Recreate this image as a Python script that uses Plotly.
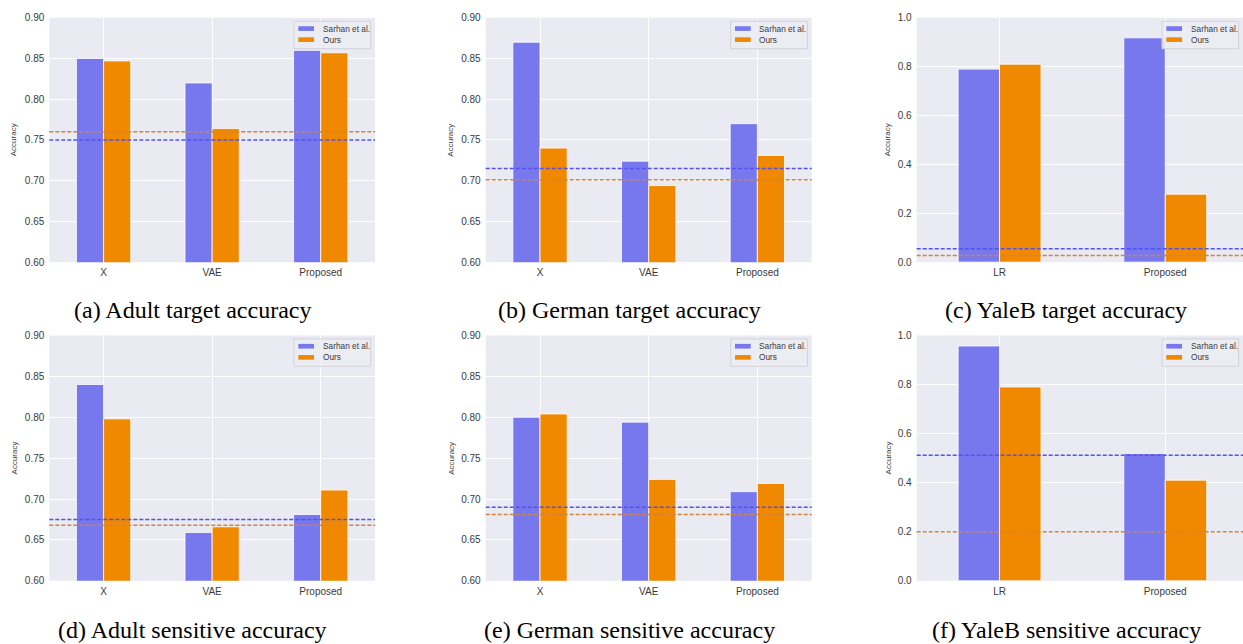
import plotly.graph_objects as go

# ---- data -------------------------------------------------------------
series_names = ["Sarhan et al.", "Ours"]

tabular_methods = ["X", "VAE", "Proposed"]
image_methods = ["LR", "Proposed"]

adult_target_sarhan = [0.850, 0.820, 0.860]
adult_target_ours = [0.847, 0.764, 0.857]
adult_target_baseline = [0.750, 0.760]      # sarhan, ours

german_target_sarhan = [0.870, 0.724, 0.770]
german_target_ours = [0.740, 0.694, 0.731]
german_target_baseline = [0.715, 0.701]

yaleb_target_sarhan = [0.790, 0.918]
yaleb_target_ours = [0.810, 0.278]
yaleb_target_baseline = [0.055, 0.027]

adult_sensitive_sarhan = [0.840, 0.659, 0.681]
adult_sensitive_ours = [0.798, 0.666, 0.711]
adult_sensitive_baseline = [0.675, 0.668]

german_sensitive_sarhan = [0.800, 0.794, 0.709]
german_sensitive_ours = [0.804, 0.724, 0.719]
german_sensitive_baseline = [0.690, 0.681]

yaleb_sensitive_sarhan = [0.957, 0.519]
yaleb_sensitive_ours = [0.790, 0.410]
yaleb_sensitive_baseline = [0.512, 0.200]

tabular_ticks = [0.60, 0.65, 0.70, 0.75, 0.80, 0.85, 0.90]
image_ticks = [0.0, 0.2, 0.4, 0.6, 0.8, 1.0]

captions = [
    "(a) Adult target accuracy",
    "(b) German target accuracy",
    "(c) YaleB target accuracy",
    "(d) Adult sensitive accuracy",
    "(e) German sensitive accuracy",
    "(f) YaleB sensitive accuracy",
]

# ---- styling ----------------------------------------------------------
W, H = 1243, 644
BAR_COLORS = ["#7878ee", "#f08800"]
LINE_COLORS = ["#5252f0", "#d4843a"]
BG = "#eaeaf2"
TEXT = "#3a3a3a"
SANS = "Liberation Sans, Arial, sans-serif"
SERIF = "Liberation Serif, Times New Roman, serif"

# plot areas in pixels: (left, right), (top, bottom)
cols_px = [(49.3, 375.0), (485.7, 811.7), (916.7, 1243.0)]
rows_px = [(12.0, 261.0), (335.7, 585.7)]
caption_centers_x = [192, 629, 1066]
caption_centers_y = [310, 636]
CAT_SPACING_IMG = 165.7  # px between the two categories of the image panels

panels = [
    (tabular_methods, adult_target_sarhan, adult_target_ours, adult_target_baseline, "tab"),
    (tabular_methods, german_target_sarhan, german_target_ours, german_target_baseline, "tab"),
    (image_methods, yaleb_target_sarhan, yaleb_target_ours, yaleb_target_baseline, "img"),
    (tabular_methods, adult_sensitive_sarhan, adult_sensitive_ours, adult_sensitive_baseline, "tab"),
    (tabular_methods, german_sensitive_sarhan, german_sensitive_ours, german_sensitive_baseline, "tab"),
    (image_methods, yaleb_sensitive_sarhan, yaleb_sensitive_ours, yaleb_sensitive_baseline, "img"),
]


def px_x(x):
    return x / W


def px_y(y):
    return 1 - y / H


fig = go.Figure()
shapes = []
annotations = []
layout_axes = {}

for i, (cats, sarhan, ours, baseline, kind) in enumerate(panels):
    r, c = divmod(i, 3)
    left, right = cols_px[c]
    top, bottom = rows_px[r]
    n = i + 1
    xname = "x" if n == 1 else f"x{n}"
    yname = "y" if n == 1 else f"y{n}"
    xkey = "xaxis" if n == 1 else f"xaxis{n}"
    ykey = "yaxis" if n == 1 else f"yaxis{n}"

    for vals, name, color in zip([sarhan, ours], series_names, BAR_COLORS):
        fig.add_trace(go.Bar(
            x=cats, y=vals, name=name, showlegend=False,
            marker=dict(color=color, line=dict(color="white", width=0.8)),
            xaxis=xname, yaxis=yname,
        ))

    # horizontal dashed reference lines
    for val, color in zip(baseline, LINE_COLORS):
        shapes.append(dict(
            type="line", xref=f"{xname} domain", yref=yname,
            x0=0, x1=1, y0=val, y1=val, layer="above",
            line=dict(color=color, width=1.5, dash="4px,2px"),
        ))

    if kind == "tab":
        yrange, ticks, fmt = [0.6, 0.9], tabular_ticks, ".2f"
        title_off = 35.0
        xrange = [-0.5, len(cats) - 0.5]
    else:
        yrange, ticks, fmt = [0.0, 1.0], image_ticks, ".1f"
        title_off = 28.4
        # the last column runs off the right page edge
        xrange = [-0.5, -0.5 + (right - left) / CAT_SPACING_IMG]

    layout_axes[xkey] = dict(
        domain=[px_x(left), px_x(right)], anchor=yname,
        type="category", range=xrange,
        showgrid=True, gridcolor="white", gridwidth=1,
        showline=False, zeroline=False, ticks="",
        ticklabelstandoff=3,
        tickfont=dict(family=SANS, size=10, color=TEXT),
        fixedrange=True,
    )
    layout_axes[ykey] = dict(
        domain=[px_y(bottom), px_y(top)], anchor=xname,
        range=yrange, tickvals=ticks, tickformat=fmt,
        showgrid=True, gridcolor="white", gridwidth=1,
        showline=False, zeroline=False, ticks="",
        ticklabelstandoff=4,
        tickfont=dict(family=SANS, size=10, color=TEXT),
        fixedrange=True,
    )

    # y-axis label
    annotations.append(dict(
        text="Accuracy", textangle=-90, showarrow=False,
        xref="paper", yref="paper",
        x=px_x(left - title_off), y=px_y((top + bottom) / 2),
        xanchor="center", yanchor="middle",
        font=dict(family=SANS, size=8, color=TEXT),
    ))

    # legend box in the upper-right corner of each panel
    bl = right - 81.0
    shapes.append(dict(
        type="rect", xref="paper", yref="paper",
        x0=px_x(bl), x1=px_x(bl + 76.7),
        y0=px_y(top + 3.5), y1=px_y(top + 31.5),
        fillcolor="rgba(236,236,243,0.9)", line=dict(color="#d2d2d8", width=1),
        layer="above",
    ))
    for k, (name, color) in enumerate(zip(series_names, BAR_COLORS)):
        cy = top + 11.0 + 11.3 * k
        shapes.append(dict(
            type="rect", xref="paper", yref="paper",
            x0=px_x(bl + 4.3), x1=px_x(bl + 20.0),
            y0=px_y(cy + 2.4), y1=px_y(cy - 2.4),
            fillcolor=color, line=dict(width=0), layer="above",
        ))
        annotations.append(dict(
            text=name, showarrow=False, xref="paper", yref="paper",
            x=px_x(bl + 26.5), y=px_y(cy), xanchor="left", yanchor="middle",
            font=dict(family=SANS, size=8.3, color=TEXT),
        ))

    # sub-figure caption
    annotations.append(dict(
        text=captions[i], showarrow=False, xref="paper", yref="paper",
        x=px_x(caption_centers_x[c]), y=px_y(caption_centers_y[r]),
        xanchor="center", yanchor="middle",
        font=dict(family=SERIF, size=24, color="black"),
    ))

fig.update_layout(
    width=W, height=H,
    margin=dict(l=0, r=0, t=0, b=0),
    paper_bgcolor="white", plot_bgcolor=BG,
    barmode="group", bargap=0.5, bargroupgap=0.0,
    shapes=shapes, annotations=annotations,
    showlegend=False,
    **layout_axes,
)

fig.write_html("out.html", config={"displayModeBar": False})
